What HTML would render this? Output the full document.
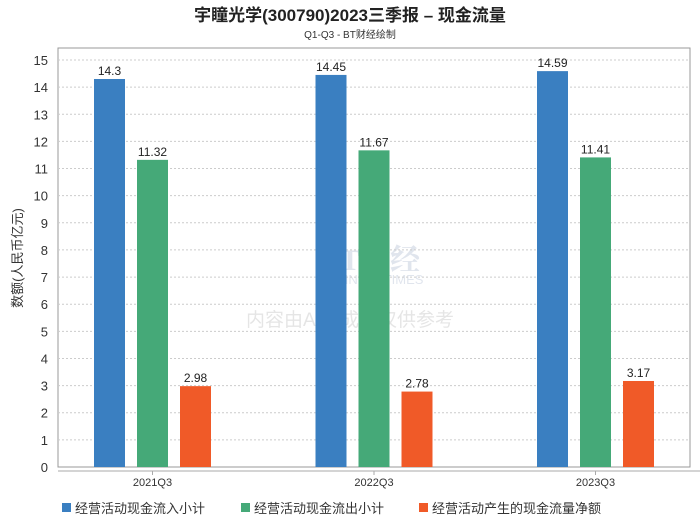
<!DOCTYPE html>
<html><head><meta charset="utf-8"><style>
body{margin:0;background:#fff;width:700px;height:524px;overflow:hidden;font-family:"Liberation Sans","Noto Sans CJK SC",sans-serif}
</style></head><body>
<svg width="700" height="524" id="chart" font-family="Liberation Sans, Noto Sans CJK SC, sans-serif">
<text x="350" y="21" text-anchor="middle" font-size="17" font-weight="bold" fill="#222">宇瞳光学(300790)2023三季报 – 现金流量</text>
<text x="350" y="38" text-anchor="middle" font-size="10" fill="#333">Q1-Q3 - BT财经绘制</text>
<rect x="58" y="48" width="632" height="419" fill="none" stroke="#999"/>
<line x1="58" y1="471" x2="700" y2="471" stroke="#aaa"/>
<text transform="translate(22,258) rotate(-90)" text-anchor="middle" font-size="13" fill="#333">数额(人民币亿元)</text>
<g id="wm" opacity="0.25">
<text x="320" y="270" font-size="30" font-weight="bold" fill="#8899bb" font-family="Liberation Serif, Noto Serif CJK SC, serif">BT财经</text>
<text x="318" y="284" font-size="13" fill="#8899bb">BUSINESSTIMES</text>
<text x="350" y="326" text-anchor="middle" font-size="19" fill="#999">内容由AI生成，仅供参考</text>
</g>
<g id="grid"></g><g id="bars"></g>
<g font-size="13" fill="#333">
<rect x="62" y="503" width="9" height="9" fill="#3a7fc1"/>
<text x="75" y="513">经营活动现金流入小计</text>
<rect x="241" y="503" width="9" height="9" fill="#45a978"/>
<text x="254" y="513">经营活动现金流出小计</text>
<rect x="419" y="503" width="9" height="9" fill="#f05a28"/>
<text x="432" y="513">经营活动产生的现金流量净额</text>
</g>
</svg>
<script>
const categories=["2021Q3","2022Q3","2023Q3"];
const inflow=[14.3,14.45,14.59];
const outflow=[11.32,11.67,11.41];
const net=[2.98,2.78,3.17];
const yTicks=[0,1,2,3,4,5,6,7,8,9,10,11,12,13,14,15];
const NS="http://www.w3.org/2000/svg";
function y(v){return 467-v*(407/15);}
function cx(i){return 152.5+i*221.5;}
function mk(t,a,p){const e=document.createElementNS(NS,t);for(const k in a)e.setAttribute(k,a[k]);p.appendChild(e);return e;}
const grid=document.getElementById('grid'),bars=document.getElementById('bars');
yTicks.forEach(v=>{
 if(v>0){const l=mk('line',{x1:58,x2:690,y1:y(v),y2:y(v),stroke:'#ccc','stroke-dasharray':'2,2'},grid);
 
 }
 const t=mk('text',{x:48,y:y(v)+5,'text-anchor':'end','font-size':13,fill:'#333'},grid);t.textContent=v;
 
 
});
const series=[[inflow,'#3a7fc1',-43,'inflow'],[outflow,'#45a978',0,'outflow'],[net,'#f05a28',43,'net']];
categories.forEach((c,i)=>{
 const t=mk('text',{x:cx(i),y:486,'text-anchor':'middle','font-size':11,fill:'#333'},bars);t.textContent=c;
 
 
 mk('line',{x1:cx(i),x2:cx(i),y1:471,y2:475,stroke:'#aaa'},bars);
 series.forEach(s=>{
  const v=s[0][i],x=cx(i)+s[2]-15.5;
  const r=mk('rect',{x:x,y:y(v),width:31,height:467-y(v),fill:s[1]},bars);
  
  
  const l=mk('text',{x:x+15.5,y:y(v)-4,'text-anchor':'middle','font-size':12,fill:'#222'},bars);l.textContent=v;
  
  
 });
});
</script>
</body></html>
